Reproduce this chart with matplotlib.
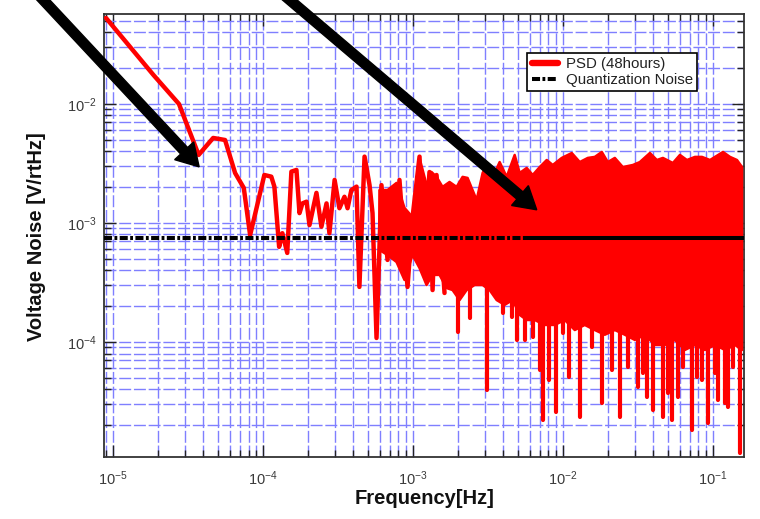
import numpy as np
import matplotlib
matplotlib.use('Agg')
import matplotlib.pyplot as plt
from matplotlib.ticker import LogLocator, FuncFormatter, NullFormatter, FixedLocator
from matplotlib.patches import FancyArrow
from matplotlib.transforms import IdentityTransform

plt.rcParams['font.family'] = ['Liberation Sans', 'DejaVu Sans']
plt.rcParams['mathtext.fontset'] = 'custom'
plt.rcParams['mathtext.rm'] = 'Liberation Sans'
plt.rcParams['mathtext.it'] = 'Liberation Sans:italic'

# ---------------- data ----------------
# sparse low-frequency part of the PSD, drawn as a line
psd_line_freq = [8.97e-6, 1.86e-5, 2.75e-5, 3.72e-5, 4.65e-5, 5.58e-5, 6.51e-5, 7.44e-5,
                 8.2e-5, 1.02e-4, 1.135e-4, 1.19e-4, 1.28e-4, 1.345e-4, 1.45e-4, 1.545e-4,
                 1.67e-4, 1.75e-4, 1.83e-4, 1.95e-4, 2.04e-4, 2.27e-4, 2.45e-4, 2.65e-4,
                 2.77e-4, 3.0e-4, 3.23e-4, 3.49e-4, 3.66e-4, 3.88e-4, 4.20e-4, 4.39e-4,
                 4.75e-4, 5.13e-4, 5.37e-4, 5.71e-4, 6.16e-4, 6.76e-4, 7.18e-4, 7.76e-4,
                 8.12e-4, 9.19e-4, 9.93e-4, 1.105e-3, 1.157e-3, 1.288e-3, 1.35e-3, 1.435e-3,
                 1.622e-3]
psd_line_val = [0.0528, 0.0175, 0.0100, 3.73e-3, 5.18e-3, 4.98e-3, 2.63e-3, 1.97e-3,
                7.9e-4, 2.53e-3, 2.45e-3, 2.02e-3, 6.3e-4, 8.2e-4, 5.6e-4, 2.70e-3,
                2.79e-3, 1.21e-3, 1.46e-3, 1.51e-3, 9.6e-4, 1.79e-3, 9.3e-4, 1.46e-3,
                8.2e-4, 2.30e-3, 1.33e-3, 1.66e-3, 1.33e-3, 1.89e-3, 2.02e-3, 2.9e-4,
                3.61e-3, 2.08e-3, 1.21e-3, 1.08e-4, 2.08e-3, 4.89e-4, 1.89e-3, 4.89e-4,
                2.30e-3, 2.90e-4, 1.12e-3, 3.61e-3, 4.03e-4, 2.68e-3, 2.73e-4, 2.53e-3,
                2.58e-4]

# dense high-frequency part: upper envelope of the red band
band_top_freq = [5.97e-4, 6.76e-4, 7.76e-4, 8.77e-4, 9.92e-4, 1.055e-3, 1.105e-3, 1.231e-3,
                 1.329e-3, 1.435e-3, 1.574e-3, 1.752e-3, 1.952e-3, 2.141e-3, 2.311e-3, 2.655e-3,
                 2.911e-3, 3.095e-3, 3.501e-3, 3.781e-3, 4.211e-3, 4.762e-3, 5.142e-3, 5.725e-3,
                 6.281e-3, 6.995e-3, 7.788e-3, 8.543e-3, 9.81e-3, 1.144e-2, 1.294e-2, 1.463e-2,
                 1.629e-2, 1.815e-2, 1.990e-2, 2.216e-2, 2.506e-2, 2.922e-2, 3.254e-2, 3.796e-2,
                 4.227e-2, 4.636e-2, 5.405e-2, 6.020e-2, 6.705e-2, 7.581e-2, 8.444e-2, 9.55e-2,
                 0.1166, 0.1299, 0.1446, 0.1562]
band_top_val = [1.89e-3, 1.89e-3, 2.17e-3, 1.34e-3, 1.12e-3, 2.01e-3, 3.52e-3, 2.09e-3,
                2.68e-3, 2.44e-3, 2.01e-3, 2.21e-3, 2.01e-3, 2.44e-3, 2.39e-3, 1.56e-3,
                2.63e-3, 3.07e-3, 2.63e-3, 3.25e-3, 2.44e-3, 3.73e-3, 2.63e-3, 2.90e-3,
                2.53e-3, 2.95e-3, 3.38e-3, 3.07e-3, 3.52e-3, 3.87e-3, 3.25e-3, 3.52e-3,
                3.59e-3, 3.95e-3, 3.25e-3, 3.52e-3, 2.95e-3, 3.07e-3, 3.25e-3, 3.87e-3,
                3.38e-3, 3.52e-3, 3.19e-3, 3.73e-3, 3.38e-3, 3.59e-3, 3.59e-3, 3.38e-3,
                3.95e-3, 3.59e-3, 3.38e-3, 2.95e-3]

# lower edge of the solid part of the band
band_bot_freq = [5.97e-4, 6.76e-4, 7.76e-4, 8.77e-4, 9.92e-4, 1.105e-3, 1.231e-3, 1.350e-3,
                 1.503e-3, 1.674e-3, 1.835e-3, 2.044e-3, 2.277e-3, 2.574e-3, 2.911e-3, 3.242e-3,
                 3.611e-3, 4.083e-3, 4.617e-3, 5.142e-3, 5.725e-3, 6.478e-3, 7.552e-3, 8.810e-3,
                 1.027e-2, 1.198e-2, 1.397e-2, 1.629e-2, 1.900e-2, 2.216e-2, 2.585e-2, 3.013e-2,
                 3.514e-2, 4.100e-2, 4.781e-2, 5.573e-2, 6.501e-2, 7.581e-2, 8.843e-2, 0.1031,
                 0.1202, 0.1402, 0.1562]
band_bot_val = [5.93e-4, 5.38e-4, 4.70e-4, 3.32e-4, 5.38e-4, 4.18e-4, 3.01e-4, 3.66e-4,
                3.66e-4, 2.84e-4, 2.73e-4, 2.25e-4, 2.73e-4, 3.01e-4, 3.01e-4, 2.73e-4,
                2.25e-4, 2.05e-4, 2.25e-4, 1.69e-4, 1.53e-4, 1.53e-4, 1.39e-4, 1.39e-4,
                1.53e-4, 1.26e-4, 1.39e-4, 1.26e-4, 1.15e-4, 1.26e-4, 1.15e-4, 1.04e-4,
                1.15e-4, 9.44e-5, 9.44e-5, 1.04e-4, 8.57e-5, 9.44e-5, 8.57e-5, 9.44e-5,
                8.57e-5, 9.44e-5, 8.57e-5]

# deep dips below the band
dip_freq = [1.982e-3, 2.384e-3, 3.095e-3, 3.96e-3, 4.55e-3, 4.91e-3, 5.55e-3, 6.28e-3,
            6.995e-3, 7.32e-3, 8.03e-3, 8.95e-3, 9.96e-3, 1.092e-2, 1.294e-2, 1.556e-2,
            1.815e-2, 2.116e-2, 2.393e-2, 2.706e-2, 3.156e-2, 3.41e-2, 3.625e-2, 3.975e-2,
            4.636e-2, 5.007e-2, 5.32e-2, 5.84e-2, 6.30e-2, 7.24e-2, 7.82e-2, 8.44e-2,
            9.26e-2, 0.1031, 0.108, 0.1202, 0.126, 0.136, 0.1515]
dip_val = [1.21e-4, 1.59e-4, 3.95e-5, 1.75e-4, 1.62e-4, 1.04e-4, 1.04e-4, 1.10e-4,
           5.82e-5, 2.21e-5, 4.79e-5, 2.58e-5, 1.19e-4, 5.08e-5, 2.34e-5, 9.08e-5,
           3.07e-5, 5.82e-5, 2.34e-5, 6.16e-5, 4.18e-5, 5.49e-5, 3.45e-5, 2.68e-5,
           2.34e-5, 3.73e-5, 2.21e-5, 3.45e-5, 6.16e-5, 1.82e-5, 5.08e-5, 4.79e-5,
           2.09e-5, 5.49e-5, 3.26e-5, 3.07e-5, 2.84e-5, 6.16e-5, 1.17e-5]

quant_freq = [8.7e-6, 0.161]
quant_level = 7.5e-4
quant_dense_from = 5.5e-3

x_limits = (8.7e-6, 0.161)
y_limits = (1.08e-5, 0.057)
x_major = [1e-5, 1e-4, 1e-3, 1e-2, 1e-1]
y_major = [1e-4, 1e-3, 1e-2]
legend_labels = ['PSD (48hours)', 'Quantization Noise']
x_label = 'Frequency[Hz]'
y_label = 'Voltage Noise [V/rtHz]'
arrow_tips = [(3.75e-5, 2.96e-3), (6.68e-3, 1.29e-3)]
arrow_tails_fig = [(0.0447, 1.0193), (0.3658, 1.0193)]

# ---------------- figure ----------------
W, H = 760, 519
fig = plt.figure(figsize=(W / 100, H / 100), dpi=100)
ax = fig.add_axes([104 / W, 1 - 457 / H, 640 / W, 443 / H])
ax.set_xscale('log')
ax.set_yscale('log')
ax.set_xlim(*x_limits)
ax.set_ylim(*y_limits)

ax.xaxis.set_major_locator(FixedLocator(x_major))
ax.yaxis.set_major_locator(FixedLocator(y_major))
ax.xaxis.set_minor_locator(LogLocator(base=10, subs=np.arange(2, 10), numticks=30))
ax.yaxis.set_minor_locator(LogLocator(base=10, subs=np.arange(2, 10), numticks=30))
fmt = FuncFormatter(lambda v, p: r'$\mathit{10}^{\mathit{%d}}$' % int(round(np.log10(v))))
ax.xaxis.set_major_formatter(fmt)
ax.yaxis.set_major_formatter(fmt)
ax.xaxis.set_minor_formatter(NullFormatter())
ax.yaxis.set_minor_formatter(NullFormatter())

ax.grid(True, which='both', color='#7f7fff', linewidth=1.0, linestyle=(0, (8.6, 2.0)))
ax.set_axisbelow(True)
ax.tick_params(which='both', direction='in', top=True, right=True, width=1.0, color='#222222',
               labelcolor='#3a3a3a', labelsize=10.5)
ax.tick_params(which='major', length=8.5)
ax.tick_params(which='minor', length=5)
ax.tick_params(axis='x', which='major', pad=9)
ax.tick_params(axis='y', which='major', pad=5)
for s in ax.spines.values():
    s.set_color('#333333')
    s.set_linewidth(1.3)

red = '#ff0000'
ax.plot(psd_line_freq, psd_line_val, color=red, lw=3.2, solid_joinstyle='round',
        solid_capstyle='round', zorder=3, label=legend_labels[0])
ax.fill(np.r_[band_top_freq, band_bot_freq[::-1]], np.r_[band_top_val, band_bot_val[::-1]],
        facecolor=red, edgecolor=red, lw=1.8, joinstyle='round', zorder=3)
ax.vlines(dip_freq, quant_level, dip_val, color=red, lw=3.0, capstyle='round', zorder=3)

ax.plot([quant_freq[0], quant_dense_from], [quant_level, quant_level], color='black', lw=2.9,
        linestyle=(0, (2.0, 0.6, 0.7, 0.6)), dash_capstyle='butt', zorder=4,
        label=legend_labels[1])
ax.plot([quant_dense_from, quant_freq[1]], [quant_level, quant_level], color='black', lw=2.9,
        solid_capstyle='butt', zorder=4)

leg = ax.legend(loc='upper right', bbox_to_anchor=(0.927, 0.912), fontsize=10.8, frameon=True,
                fancybox=False, edgecolor='black', framealpha=1, borderpad=0.3,
                labelspacing=0.1, handlelength=1.75, handletextpad=0.5, borderaxespad=0)
leg.get_frame().set_linewidth(1.2)
leg.legend_handles[0].set_linewidth(4.6)
for t in leg.get_texts():
    t.set_color('#222222')
leg.set_zorder(6)

fig.text(425 / W, 1 - 498 / H, x_label, ha='center', va='center', fontsize=14.5,
         fontweight='bold', color='#111111')
fig.text(37 / W, 1 - 237 / H, y_label, ha='center', va='center', rotation=90, fontsize=14.5,
         fontweight='bold', color='#111111')

# arrows (annotation overlays)
for tip, tail in zip(arrow_tips, arrow_tails_fig):
    tx, ty = ax.transData.transform(tip)
    sx, sy = fig.transFigure.transform(tail)
    arr = FancyArrow(sx, sy, tx - sx, ty - sy, width=9.5, head_width=26, head_length=22,
                     length_includes_head=True, color='black', transform=IdentityTransform(),
                     zorder=10)
    fig.add_artist(arr)

fig.savefig('out.png', dpi=100)
